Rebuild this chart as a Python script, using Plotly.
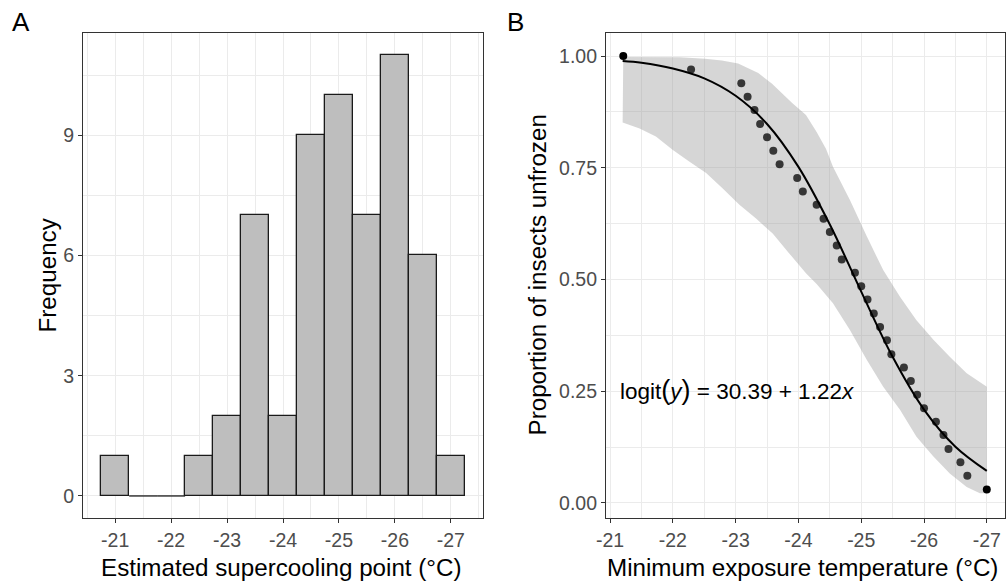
import plotly.graph_objects as go

# ---------------- Data ----------------
# Panel A: histogram of estimated supercooling points (bin centres, 0.5 °C bins)
sc_bins = [-21.0, -21.5, -22.0, -22.5, -23.0, -23.5, -24.0, -24.5, -25.0, -25.5, -26.0, -26.5, -27.0]
sc_counts = [1, 0, 0, 1, 2, 7, 2, 9, 10, 7, 11, 6, 1]
bin_width = 0.5

# Panel B: observed proportion unfrozen
obs_temp = [-21.21, -22.29, -23.09, -23.19, -23.30, -23.39, -23.50, -23.60, -23.70, -23.98,
            -24.07, -24.29, -24.40, -24.50, -24.61, -24.69, -24.90, -25.00, -25.10, -25.20,
            -25.30, -25.41, -25.48, -25.68, -25.79, -25.89, -26.00, -26.19, -26.31, -26.39,
            -26.58, -26.69, -27.00]
obs_prop = [1.000, 0.970, 0.939, 0.909, 0.879, 0.848, 0.818, 0.788, 0.758, 0.727,
            0.697, 0.667, 0.636, 0.606, 0.576, 0.545, 0.515, 0.485, 0.455, 0.424,
            0.394, 0.364, 0.333, 0.303, 0.273, 0.242, 0.212, 0.182, 0.152, 0.121,
            0.091, 0.061, 0.030]

# fitted logistic curve
fit_temp = [-21.2, -21.5, -22.0, -22.5, -23.0, -23.5, -24.0, -24.5, -25.0, -25.5, -26.0, -26.5, -27.0]
fit_prop = [0.989, 0.985, 0.972, 0.950, 0.911, 0.848, 0.752, 0.623, 0.473, 0.327, 0.209, 0.126, 0.072]

# confidence band
upper_temp = [-21.21, -21.64, -22.11, -22.51, -22.78, -23.04, -23.36, -23.58, -23.90, -24.12,
              -24.29, -24.44, -24.55, -24.82, -25.09, -25.35, -25.62, -25.88, -26.15, -26.41,
              -26.68, -27.00]
upper_prop = [0.998, 0.998, 0.997, 0.994, 0.990, 0.983, 0.962, 0.938, 0.895, 0.868,
              0.830, 0.792, 0.752, 0.678, 0.596, 0.521, 0.461, 0.409, 0.365, 0.327,
              0.290, 0.260]
lower_temp = [-21.20, -21.47, -21.73, -22.00, -22.26, -22.53, -22.79, -23.06, -23.32, -23.59,
              -23.85, -24.12, -24.29, -24.55, -24.82, -25.09, -25.35, -25.62, -25.88, -26.15,
              -26.41, -26.68, -26.89, -27.00]
lower_prop = [0.851, 0.838, 0.820, 0.790, 0.764, 0.738, 0.704, 0.667, 0.637, 0.603,
              0.559, 0.514, 0.490, 0.447, 0.387, 0.320, 0.260, 0.208, 0.148, 0.104,
              0.066, 0.036, 0.022, 0.022]

x_ticks = [-21, -22, -23, -24, -25, -26, -27]
yA_ticks = [0, 3, 6, 9]
yB_ticks = [0, 0.25, 0.5, 0.75, 1.0]
yB_labels = ["0.00", "0.25", "0.50", "0.75", "1.00"]

# ---------------- Figure ----------------
W, H = 1006, 587
FONT = "Arial, 'Liberation Sans', sans-serif"
GRID = "#ebebeb"
AX = "#333333"


def px(x):
    return x / W


def py(y):
    return 1 - y / H


fig = go.Figure()

# Panel A histogram
nz_x = [b for b, c in zip(sc_bins, sc_counts) if c > 0]
nz_y = [c for c in sc_counts if c > 0]
fig.add_trace(go.Bar(x=nz_x, y=nz_y, width=bin_width,
                     marker=dict(color="#bebebe", line=dict(color="#1a1a1a", width=1.3)),
                     xaxis="x", yaxis="y", showlegend=False))
zx, zy = [], []
for b, c in zip(sc_bins, sc_counts):
    if c == 0:
        zx += [b + bin_width / 2, b - bin_width / 2, None]
        zy += [c, c, None]
fig.add_trace(go.Scatter(x=zx, y=zy, mode="lines", line=dict(color="#1a1a1a", width=1.3),
                         xaxis="x", yaxis="y", showlegend=False, hoverinfo="skip"))

# Panel B ribbon
fig.add_trace(go.Scatter(x=upper_temp + lower_temp[::-1], y=upper_prop + lower_prop[::-1],
                         fill="toself", fillcolor="rgba(153,153,153,0.4)", mode="lines",
                         line=dict(width=0), xaxis="x2", yaxis="y2", showlegend=False,
                         hoverinfo="skip"))
# points
pt_colors = ["#000000" if i in (0, len(obs_temp) - 1) else "rgba(0,0,0,0.75)" for i in range(len(obs_temp))]
fig.add_trace(go.Scatter(x=obs_temp, y=obs_prop, mode="markers",
                         marker=dict(size=8, color=pt_colors, line=dict(width=0)),
                         xaxis="x2", yaxis="y2", showlegend=False))
# fitted line
fig.add_trace(go.Scatter(x=fit_temp, y=fit_prop, mode="lines", line=dict(color="black", width=2, shape="spline"),
                         xaxis="x2", yaxis="y2", showlegend=False))

tickfont = dict(family=FONT, size=19.5, color="#4d4d4d")
common_axis = dict(showline=True, mirror=True, linecolor=AX, linewidth=1.2,
                   ticks="outside", ticklen=4, tickcolor=AX, tickwidth=1.1,
                   showgrid=True, gridcolor=GRID, gridwidth=1.1, zeroline=False,
                   tickfont=tickfont, automargin=False)

fig.update_layout(
    width=W, height=H,
    margin=dict(l=0, r=0, t=0, b=0),
    paper_bgcolor="white", plot_bgcolor="white",
    bargap=0,
    xaxis=dict(domain=[px(83), px(483)], range=[-20.425, -27.575], anchor="y",
               tickvals=x_ticks, ticktext=[str(v) for v in x_ticks],
               minor=dict(dtick=0.5, tick0=-21, showgrid=True, gridcolor=GRID, gridwidth=0.6, ticks=""),
               **common_axis),
    yaxis=dict(domain=[py(518), py(33)], range=[-0.55, 11.55], anchor="x",
               tickvals=yA_ticks,
               minor=dict(dtick=1.5, tick0=0, showgrid=True, gridcolor=GRID, gridwidth=0.6, ticks=""),
               **common_axis),
    xaxis2=dict(domain=[px(606), px(1005)], range=[-20.935, -27.29], anchor="y2",
                tickvals=x_ticks, ticktext=[str(v) for v in x_ticks],
                minor=dict(dtick=0.5, tick0=-21, showgrid=True, gridcolor=GRID, gridwidth=0.6, ticks=""),
                **common_axis),
    yaxis2=dict(domain=[py(518), py(33)], range=[-0.0336, 1.0515], anchor="x2",
                tickvals=yB_ticks, ticktext=yB_labels,
                minor=dict(dtick=0.125, tick0=0, showgrid=True, gridcolor=GRID, gridwidth=0.6, ticks=""),
                **common_axis),
)

title_font = dict(family=FONT, size=24.2, color="black")
ann = [
    dict(text="A", x=px(21), y=py(22), font=dict(family=FONT, size=26, color="black")),
    dict(text="B", x=px(515), y=py(22), font=dict(family=FONT, size=26, color="black")),
    dict(text="Estimated supercooling point (°C)", x=px(281.5), y=py(567), font=title_font),
    dict(text="Minimum exposure temperature (°C)", x=px(802.5), y=py(567), font=title_font),
    dict(text="Frequency", x=px(47), y=py(275.5), textangle=-90, font=title_font),
    dict(text="Proportion of insects unfrozen", x=px(537), y=py(275.5), textangle=-90, font=title_font),
]
for a in ann:
    fig.add_annotation(xref="paper", yref="paper", showarrow=False,
                       xanchor="center", yanchor="middle", **a)

fig.add_annotation(xref="x2", yref="y2", x=-21.12, y=0.253, showarrow=False,
                   xanchor="left", yanchor="middle",
                   text="logit<span style='font-size:27px'>(</span><i>y</i><span style='font-size:27px'>)</span>"
                        " = 30.39 + 1.22<i>x</i>",
                   font=dict(family=FONT, size=22.5, color="black"))

fig.write_html("out.html", config={"displayModeBar": False},
               post_script="document.body.style.margin='0';document.body.style.overflow='hidden';")
